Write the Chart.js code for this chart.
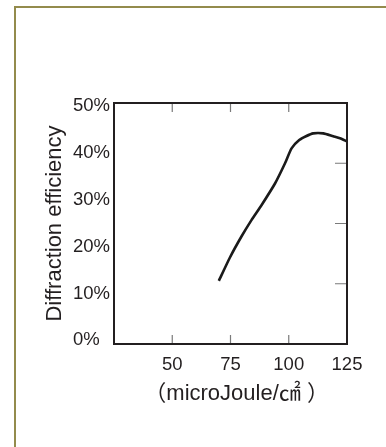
<!DOCTYPE html>
<html lang="en">
<head>
<meta charset="UTF-8">
<title>Diffraction efficiency</title>
<script src="https://cdn.jsdelivr.net/npm/chart.js"></script>
<style>
  html, body { margin: 0; padding: 0; background: #ffffff; }
  .frame {
    position: absolute; left: 14px; top: 6px; width: 400px; height: 460px;
    border-left: 2px solid #938b4c; border-top: 2px solid #938b4c;
  }
  #chart { position: absolute; left: 0; top: 0; }
</style>
</head>
<body>
<div class="frame"></div>
<canvas id="chart" width="386" height="447"></canvas>

<script>
// data
const energy = [70, 74.7, 79.7, 84, 88.3, 94.1, 98.4, 101.2, 104.5, 107.4, 110.5, 114.8, 119.1, 122, 125];
const efficiency = [13.1, 17.9, 22.3, 25.7, 28.8, 33.3, 37.5, 40.6, 42.3, 43.1, 43.7, 43.7, 43.1, 42.7, 42.0];

// ticks
const xTicks = [50, 75, 100, 125];
const yTicks = [0, 10, 20, 30, 40, 50];
const xMarks = [50, 75, 100];          // short marks on top + bottom edge
const yMarks = [12.5, 25, 37.5];       // short marks on the right edge

// frame + inner tick marks
const frameMarks = {
  id: 'frameMarks',
  afterDatasetsDraw(chart) {
    const { ctx, chartArea: a, scales: { x, y } } = chart;
    ctx.save();
    ctx.strokeStyle = '#7a7a7a';
    ctx.lineWidth = 1.2;
    ctx.beginPath();
    xMarks.forEach(v => {
      const px = x.getPixelForValue(v);
      ctx.moveTo(px, a.bottom); ctx.lineTo(px, a.bottom - 9);
      ctx.moveTo(px, a.top); ctx.lineTo(px, a.top + 9);
    });
    yMarks.forEach(v => {
      const py = y.getPixelForValue(v);
      ctx.moveTo(a.right, py); ctx.lineTo(a.right - 12, py);
    });
    ctx.stroke();
    ctx.strokeStyle = '#231f20';
    ctx.lineWidth = 2;
    ctx.strokeRect(a.left, a.top, a.width, a.height);
    ctx.restore();
  }
};

Chart.defaults.font.family = "'Liberation Sans', 'Noto Sans CJK JP', sans-serif";
Chart.defaults.color = '#231f20';

new Chart(document.getElementById('chart'), {
  type: 'line',
  data: {
    datasets: [{
      data: energy.map((e, i) => ({ x: e, y: efficiency[i] })),
      borderColor: '#1a1a1a',
      borderWidth: 2.6,
      pointRadius: 0,
      tension: 0.2,
      fill: false
    }]
  },
  options: {
    responsive: false,
    animation: false,
    devicePixelRatio: 1,
    layout: { padding: { left: 0, right: 39, top: 103, bottom: 0 } },
    plugins: { legend: { display: false }, tooltip: { enabled: false } },
    scales: {
      x: {
        type: 'linear',
        min: 25, max: 125,
        afterBuildTicks: s => { s.ticks = xTicks.map(v => ({ value: v })); },
        afterFit: s => { s.height = 103; },
        grid: { display: false, drawTicks: false },
        border: { display: false },
        ticks: { padding: 10, font: { size: 18.5 }, maxRotation: 0 },
        title: {
          display: true,
          text: '  （microJoule/㎠ ）',
          font: { size: 22 },
          padding: { top: 0, bottom: 40 }
        }
      },
      y: {
        position: 'left',
        weight: 10,
        min: 0, max: 50,
        afterFit: s => { s.width = 73; },
        grid: { display: false, drawTicks: false },
        border: { display: false },
        ticks: { display: false },
        title: {
          display: true,
          text: 'Diffraction efficiency',
          font: { size: 22 },
          padding: { top: 42, bottom: 0 }
        }
      },
      yl: {
        position: 'left',
        weight: 0,
        min: -0.77, max: 50.7,
        afterBuildTicks: s => { s.ticks = yTicks.map(v => ({ value: v })); },
        afterFit: s => { s.width = 41; },
        grid: { display: false, drawTicks: false },
        border: { display: false },
        ticks: {
          crossAlign: 'far',
          font: { size: 18.5 },
          callback: v => v + '%'
        }
      }
    }
  },
  plugins: [frameMarks]
});
</script>
</body>
</html>
